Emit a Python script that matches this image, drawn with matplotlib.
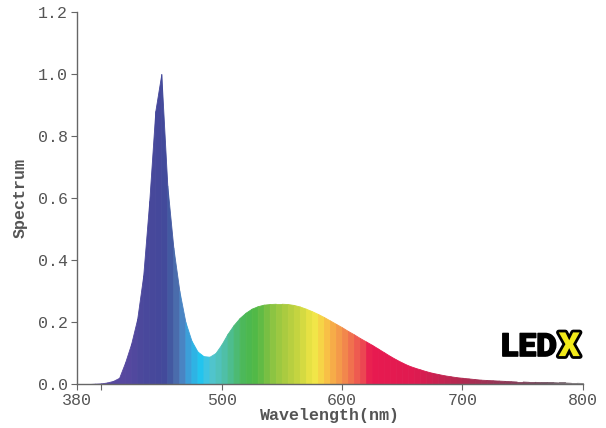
import numpy as np
import matplotlib
matplotlib.use("Agg")
import matplotlib.pyplot as plt
from matplotlib.colors import LinearSegmentedColormap
import matplotlib.patheffects as pe

# spectrum, 5 nm steps
wavelength = list(range(380, 805, 5))
spectrum = [
    0.000, 0.000, 0.000, 0.001, 0.002, 0.005, 0.010, 0.020, 0.070, 0.130,  # 380-425
    0.210, 0.350, 0.590, 0.880, 1.000, 0.640, 0.440, 0.300, 0.200, 0.140,  # 430-475
    0.105, 0.090, 0.088, 0.100, 0.128, 0.162, 0.190, 0.213, 0.230, 0.243,  # 480-525
    0.251, 0.256, 0.258, 0.259, 0.259, 0.258, 0.255, 0.250, 0.243, 0.235,  # 530-575
    0.226, 0.216, 0.205, 0.194, 0.183, 0.171, 0.160, 0.148, 0.137, 0.126,  # 580-625
    0.114, 0.102, 0.090, 0.079, 0.069, 0.060, 0.053, 0.047, 0.041, 0.036,  # 630-675
    0.032, 0.028, 0.025, 0.022, 0.020, 0.018, 0.016, 0.014, 0.013, 0.012,  # 680-725
    0.011, 0.010, 0.009, 0.008, 0.008, 0.007, 0.007, 0.006, 0.006, 0.006,  # 730-775
    0.005, 0.005, 0.004, 0.004, 0.003,                                     # 780-800
]

x_ticks = [380, 400, 500, 600, 700, 800]
x_ticklabels = ["380", "", "500", "600", "700", "800"]
y_ticks = [0.0, 0.2, 0.4, 0.6, 0.8, 1.0, 1.2]

# colour of the fill by wavelength
color_stops = [
    (380, "#5c4a9e"), (420, "#56489f"), (435, "#4a489c"), (452, "#43489a"),
    (457, "#4258a0"), (462, "#4a6aaa"), (467, "#4a82c2"), (472, "#3c9ed8"),
    (477, "#2eb2e4"), (482, "#22c4ee"), (487, "#3ec4e2"), (492, "#50c4cc"),
    (500, "#50c0b0"), (508, "#4cbc88"), (516, "#4cb85c"), (525, "#4cb848"),
    (535, "#6cbc44"), (545, "#94c642"), (555, "#b0cc40"), (565, "#cad640"),
    (572, "#e4e042"), (578, "#f2e648"), (583, "#f6d246"), (588, "#f8be46"),
    (593, "#f6aa48"), (598, "#f4984a"), (603, "#f2844c"), (608, "#f06e4e"),
    (613, "#ee5850"), (618, "#ec4252"), (623, "#e81a50"), (660, "#e01a50"),
    (700, "#b02a50"), (740, "#8a3a58"), (770, "#705060"), (800, "#8a8a8a"),
]
cmap = LinearSegmentedColormap.from_list(
    "spec", [((w - 380) / 420, c) for w, c in color_stops])

MONO = "Liberation Mono"
GREY = "#555555"

fig = plt.figure(figsize=(6.06, 4.28), dpi=100)
ax = fig.add_axes([0.127, 0.1028, 0.835, 0.869])

wl = np.array(wavelength, dtype=float)
sp = np.array(spectrum)
for i in range(len(wl) - 1):
    c = cmap(((wl[i] + wl[i + 1]) / 2 - 380) / 420)
    ax.fill_between(wl[i:i + 2], 0, sp[i:i + 2], facecolor=c,
                    edgecolor=c, linewidth=0.6)

ax.set_xlim(380, 800)
ax.set_ylim(0, 1.2)
ax.set_xticks(x_ticks)
ax.set_xticklabels(x_ticklabels)
ax.set_yticks(y_ticks)
ax.set_yticklabels([f"{v:.1f}" for v in y_ticks])

for s in ["top", "right"]:
    ax.spines[s].set_visible(False)
for s in ["left", "bottom"]:
    ax.spines[s].set_color("#666666")
    ax.spines[s].set_linewidth(1.0)

ax.tick_params(direction="out", length=4.5, width=0.8, color="#666666",
               labelcolor=GREY, pad=2)
for lab in ax.get_xticklabels() + ax.get_yticklabels():
    lab.set_fontfamily(MONO)
    lab.set_fontsize(12)

ax.set_xlabel("Wavelength(nm)", fontfamily=MONO, fontsize=12,
              fontweight="bold", color=GREY)
ax.set_ylabel("Spectrum", fontfamily=MONO, fontsize=12,
              fontweight="bold", color=GREY)
ax.xaxis.set_label_coords(0.5, -0.064)
ax.yaxis.set_label_coords(-0.098, 0.5)

# LEDX logo
ax.text(778.5, 0.09, "LED", ha="right", va="baseline", fontsize=23,
        fontfamily="Roboto", fontweight="black", color="black",
        path_effects=[pe.withStroke(linewidth=1.0, foreground="black")])
ax.text(797.5, 0.09, "X", ha="right", va="baseline", fontsize=24,
        fontfamily="Roboto", fontweight="black", color="#f2ea1a",
        path_effects=[pe.withStroke(linewidth=4, foreground="black")])

fig.savefig("out.png", dpi=100)
